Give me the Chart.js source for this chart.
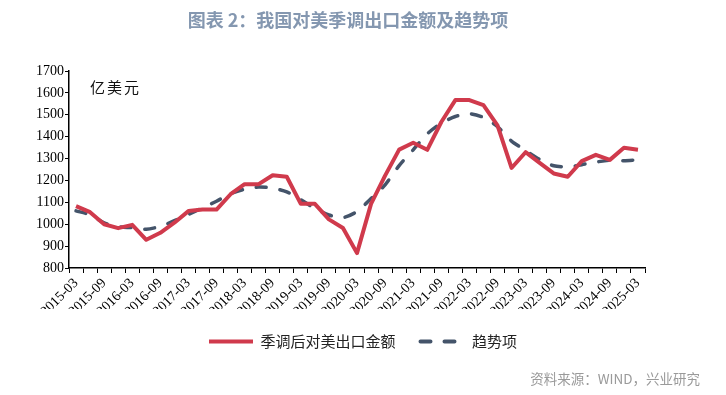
<!DOCTYPE html>
<html>
<head>
<meta charset="utf-8">
<script src="https://cdn.jsdelivr.net/npm/chart.js@4"></script>
<style>
  html, body { margin:0; padding:0; background:#fff; }
  #wrap { position:relative; width:726px; height:395px; overflow:hidden; }
  #chart { position:absolute; left:0; top:0; }
  .title { position:absolute; left:0; width:696px; top:6px; text-align:center; font-family:'Noto Sans CJK SC',sans-serif; font-weight:700; font-size:18px; color:#8497b0; }
  .unit { position:absolute; left:90px; top:76px; font-family:'Noto Sans CJK SC',sans-serif; font-size:15px; letter-spacing:2px; color:#111; }
  .source { position:absolute; right:26px; top:368px; font-family:'Noto Sans CJK SC',sans-serif; font-size:13.5px; color:#9a9a9a; }
</style>
</head>
<body>
<div id="wrap">
  <canvas id="chart" width="726" height="395"></canvas>
  <div class="title">图表 2：我国对美季调出口金额及趋势项</div>
  <div class="unit">亿美元</div>
  <div class="source">资料来源：WIND，兴业研究</div>
</div>
<script>
const quarters = [
  '2015-03','2015-06','2015-09','2015-12','2016-03','2016-06','2016-09','2016-12',
  '2017-03','2017-06','2017-09','2017-12','2018-03','2018-06','2018-09','2018-12',
  '2019-03','2019-06','2019-09','2019-12','2020-03','2020-06','2020-09','2020-12',
  '2021-03','2021-06','2021-09','2021-12','2022-03','2022-06','2022-09','2022-12',
  '2023-03','2023-06','2023-09','2023-12','2024-03','2024-06','2024-09','2024-12',
  '2025-03'
];
const exportSA = [
  1083,1055,1000,982,997,929,961,1007,
  1060,1067,1067,1137,1183,1183,1224,1217,
  1093,1093,1022,983,868,1093,1222,1341,
  1372,1340,1467,1567,1567,1544,1452,1257,
  1329,1280,1232,1217,1288,1317,1294,1349,
  1340
];
const trend = [
  1061,1043,1006,989,984,977,990,1016,
  1045,1075,1105,1140,1160,1170,1165,1148,
  1112,1072,1042,1030,1058,1117,1180,1268,
  1340,1413,1462,1492,1505,1488,1446,1380,
  1337,1296,1267,1262,1272,1284,1292,1290,
  1294
];
const seriesNames = ['季调后对美出口金额', '趋势项'];
const yMin = 800, yMax = 1700, yStep = 100;

const serif = {family:"'Liberation Serif', 'DejaVu Serif', serif", size:14};

new Chart(document.getElementById('chart'), {
  type:'line',
  data:{
    labels:quarters,
    datasets:[
      {label:seriesNames[0], data:exportSA, borderColor:'#d03a4c', backgroundColor:'#d03a4c', borderWidth:4, pointRadius:0, tension:0, fill:false, borderJoinStyle:'round'},
      {label:seriesNames[1], data:trend, borderColor:'#44546a', backgroundColor:'#44546a', borderWidth:3.5, borderDash:[10,14], borderCapStyle:'round', pointRadius:0, tension:0.25, fill:false}
    ]
  },
  options:{
    responsive:false,
    animation:false,
    layout:{padding:{top:71, left:0, right:0, bottom:36}},
    plugins:{
      tooltip:{enabled:false},
      legend:{
        position:'bottom',
        labels:{
          usePointStyle:true, pointStyle:'line', pointStyleWidth:44, boxHeight:15,
          padding:25, color:'#222',
          font:{family:"Noto Sans CJK SC", size:15},
          generateLabels:chart => chart.data.datasets.map((ds, i) => ({
            text:ds.label,
            datasetIndex:i,
            pointStyle:'line',
            strokeStyle:ds.borderColor,
            fillStyle:ds.borderColor,
            fontColor:'#222',
            lineWidth:4,
            lineDash:ds.borderDash || [],
            lineCap:ds.borderCapStyle || 'butt',
            hidden:false
          }))
        }
      }
    },
    scales:{
      x:{
        offset:true,
        grid:{offset:true, display:true, drawOnChartArea:false, color:'#000', tickLength:5, tickColor:'#000'},
        border:{color:'#000', width:1.5},
        ticks:{
          autoSkip:false, maxRotation:45, minRotation:45, padding:2, color:'#000', font:serif,
          callback:(v, i) => i % 2 === 0 ? quarters[i] : ''
        },
        afterFit:s => { s.height = 41; }
      },
      y:{
        min:yMin, max:yMax,
        grid:{display:true, drawOnChartArea:false, color:'#000', tickLength:4, tickColor:'#000'},
        border:{color:'#000', width:1.5},
        ticks:{stepSize:yStep, padding:1, color:'#000', font:serif, callback:v => String(v)},
        afterFit:s => { s.width = 69; }
      },
      yRight:{
        position:'right', display:true,
        grid:{display:false}, border:{display:false}, ticks:{display:false},
        afterFit:s => { s.width = 81; }
      }
    }
  }
});
</script>
</body>
</html>
